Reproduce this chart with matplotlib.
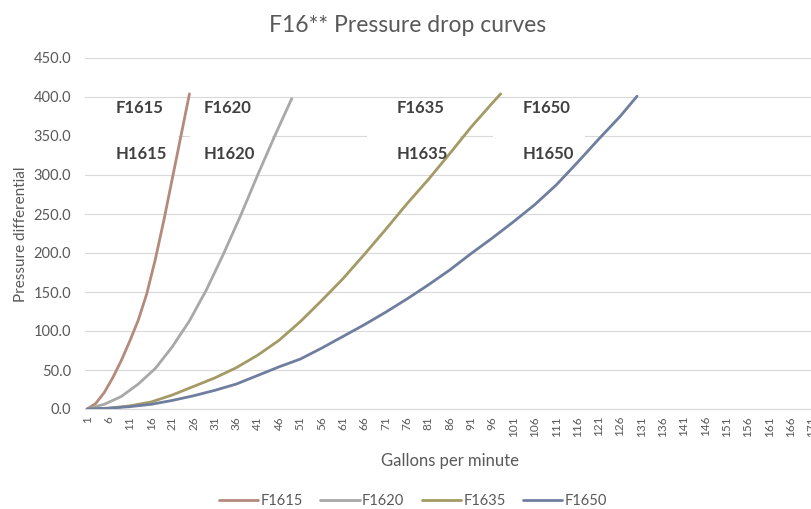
import matplotlib.pyplot as plt
from matplotlib.patches import Rectangle

plt.rcParams['font.family'] = ['Lato', 'DejaVu Sans']

# flow categories shown on the x axis (1..171 gpm, labelled every 5)
n_cat = 171
tick_gpm = list(range(1, n_cat + 1, 5))

# pressure differential vs flow for each housing
gpm_1615 = [1, 3, 5, 7, 9, 11, 13, 15, 17, 19, 21, 23, 25]
dp_1615 = [0, 7, 21, 40, 62, 87, 114, 148, 192, 242, 296, 350, 404]

gpm_1620 = [1, 5, 9, 13, 17, 21, 25, 29, 33, 37, 41, 45, 49]
dp_1620 = [0, 6, 16, 32, 52, 80, 113, 153, 199, 248, 300, 350, 398]

gpm_1635 = list(range(1, 97, 5)) + [98]
dp_1635 = [0, 1, 4, 9, 18, 29, 40, 53, 69, 88, 112, 139, 167, 198, 230,
           263, 294, 327, 361, 392, 404]

gpm_1650 = list(range(1, 127, 5)) + [130]
dp_1650 = [0, 1, 3, 6, 11, 17, 24, 32, 43, 54, 64, 78, 93, 108, 124, 141,
           159, 178, 199, 219, 240, 262, 287, 316, 346, 375, 401]

series = [
    ('F1615', gpm_1615, dp_1615, '#b38a7b'),
    ('F1620', gpm_1620, dp_1620, '#a8a8a8'),
    ('F1635', gpm_1635, dp_1635, '#a39a66'),
    ('F1650', gpm_1650, dp_1650, '#6f7e9f'),
]

# model labels placed inside the plot
labels = [('F1615', 'H1615', 7.6), ('F1620', 'H1620', 28.3),
          ('F1635', 'H1635', 73.5), ('F1650', 'H1650', 103.1)]
# white text boxes behind the labels (category spans)
boxes = [(0.5, 22.4), (25.2, 44.3), (66.6, 88.5), (96.1, 117.7)]

grey = '#595959'
fig = plt.figure(figsize=(8.12, 5.09), dpi=100)
ax = fig.add_axes([85 / 812, 100 / 509, 729 / 812, 351 / 509])

for name, x, y, col in series:
    ax.plot(x, y, color=col, lw=2.0, label=name, zorder=3,
            solid_capstyle='round', solid_joinstyle='round')

for x0, x1 in boxes:
    ax.add_patch(Rectangle((x0, 312), x1 - x0, 80, facecolor='white',
                           edgecolor='none', zorder=1))
for top, bottom, xpos in labels:
    ax.text(xpos, 386, top, fontsize=12, fontweight='bold', color='#404040',
            ha='left', va='center', zorder=4)
    ax.text(xpos, 327, bottom, fontsize=12, fontweight='bold',
            color='#404040', ha='left', va='center', zorder=4)

ax.set_xlim(0.5, n_cat + 0.5)
ax.set_ylim(0, 450)
ax.set_xticks(tick_gpm)
ax.set_xticklabels([str(t) for t in tick_gpm])
ax.set_yticks(range(0, 451, 50))
ax.set_yticklabels(['%.1f' % v for v in range(0, 451, 50)])
ax.tick_params(axis='x', length=0, pad=5, labelsize=8.5, labelcolor=grey,
               rotation=90)
ax.tick_params(axis='y', length=0, pad=10, labelsize=10.5, labelcolor=grey)

ax.set_axisbelow(True)
ax.grid(axis='y', color='#d9d9d9', lw=0.8)
for s in ['top', 'right', 'left']:
    ax.spines[s].set_visible(False)
ax.spines['bottom'].set_color('#d9d9d9')
ax.spines['bottom'].set_linewidth(0.8)

fig.text(408 / 812, 1 - 25 / 509, 'F16** Pressure drop curves', fontsize=16.5,
         color=grey, ha='center', va='center')
fig.text(450 / 812, 1 - 461 / 509, 'Gallons per minute', fontsize=12,
         color=grey, ha='center', va='center')
fig.text(21 / 812, 1 - 234 / 509, 'Pressure differential', fontsize=11,
         color=grey, ha='center', va='center', rotation=90)

fig.legend(loc='center', bbox_to_anchor=(413 / 812, 1 - 501 / 509), ncol=4,
           frameon=False, fontsize=10.5, labelcolor=grey, handlelength=2.7,
           handletextpad=0.15, columnspacing=1.2)

fig.savefig('out.png', dpi=100)
